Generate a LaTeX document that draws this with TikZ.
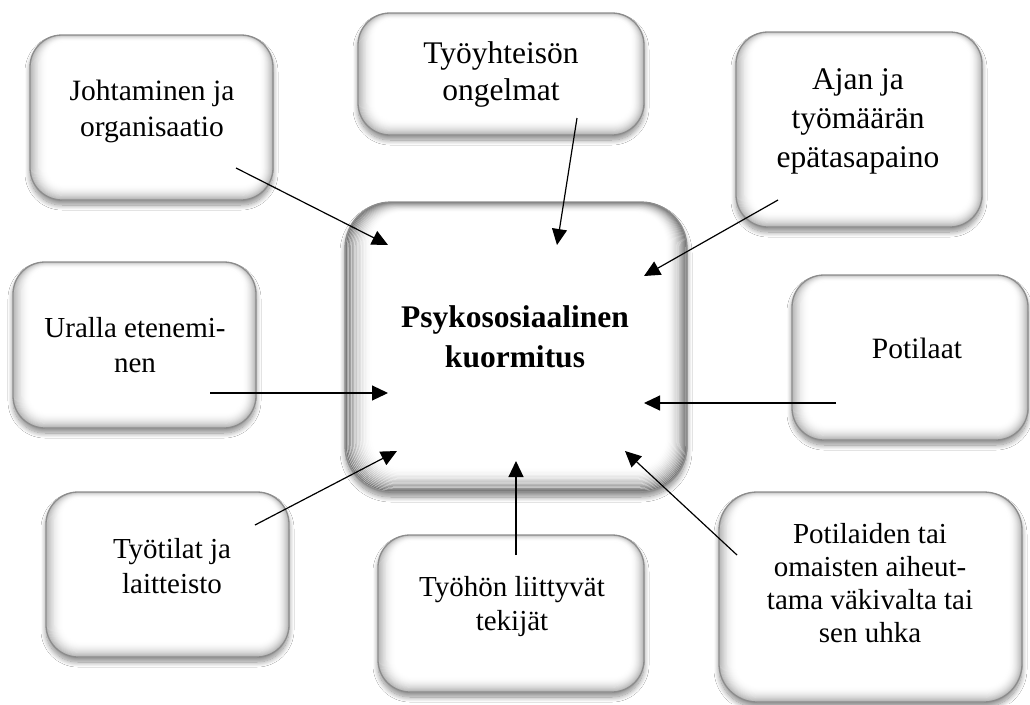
\documentclass[tikz,border=0pt]{standalone}
\usepackage{fontspec}
\setmainfont{Liberation Serif}
\usetikzlibrary{arrows.meta,shadows.blur}
\tikzset{
  bbox/.style n args={3}{
    shape=rectangle, inner sep=0pt, rounded corners=#1,
    draw=black!45, line width=1.3pt, fill=white,
    blur shadow={shadow xshift=0pt, shadow yshift=-5pt, shadow blur radius=5pt,
                 shadow opacity=45, shadow blur steps=12},
    path picture={
      \foreach \i in {0,...,19}{
        \pgfmathsetmacro\lev{#2*(1-\i/20)^2}
        \pgfmathsetmacro\rr{max(#1-0.8*\i,3)}
        \pgfmathsetmacro\dl{#3*0.9*\i}
        \pgfmathsetmacro\dr{#3*0.7*\i}
        \pgfmathsetmacro\db{#3*0.8*\i}
        \pgfmathsetmacro\dt{#3*0.35*\i}
        \draw[draw=black!\lev, line width=1.2pt, rounded corners=\rr pt]
          ([shift={(\dl pt,\db pt)}]path picture bounding box.south west) rectangle
          ([shift={(-\dr pt,-\dt pt)}]path picture bounding box.north east);
      }
    }
  },
  lbl/.style={anchor=north, inner sep=0pt, align=center, text=black},
  arr/.style={line width=1.2pt, draw=black, -{Triangle[length=16pt,width=15pt]}}
}
\begin{document}
\begin{tikzpicture}[x=1pt,y=-1pt]
\useasboundingbox[fill=white] (0,0) rectangle (1030,704);
% boxes
\node[bbox={32}{32}{1}, minimum width=243pt, minimum height=165pt] (bA) at (151.5,117.5) {};
\node[bbox={32}{32}{1}, minimum width=286pt, minimum height=122pt] (bB) at (501,74) {};
\node[bbox={32}{32}{1}, minimum width=246pt, minimum height=195pt] (bC) at (859,129.5) {};
\node[bbox={32}{32}{1}, minimum width=243pt, minimum height=166pt] (bE) at (134.5,345) {};
\node[bbox={32}{32}{1}, minimum width=236pt, minimum height=165pt] (bF) at (910,357.5) {};
\node[bbox={32}{32}{1}, minimum width=243pt, minimum height=165pt] (bG) at (167.5,574.5) {};
\node[bbox={32}{32}{1}, minimum width=266pt, minimum height=157pt] (bH) at (511,613.5) {};
\node[bbox={38}{32}{1}, minimum width=303pt, minimum height=210pt] (bI) at (870.5,597) {};
\node[bbox={46}{58}{1.6}, minimum width=342pt, minimum height=290pt] (bD) at (516,347) {};
% labels
\node[lbl, font=\fontsize{29.5}{36}\selectfont] (lA) at (152,80) {Johtaminen ja\\organisaatio};
\node[lbl, font=\fontsize{31.5}{37}\selectfont] (lB) at (501,41.6) {Työyhteisön\\ongelmat};
\node[lbl, font=\fontsize{31.5}{39}\selectfont] (lC) at (858,68.6) {Ajan ja\\työmäärän\\epätasapaino};
\node[lbl, font=\fontsize{31.5}{40}\selectfont\bfseries] (lD) at (515,305.4) {Psykososiaalinen\\kuormitus};
\node[lbl, font=\fontsize{29}{35}\selectfont] (lE) at (135,317) {Uralla etenemi-\\nen};
\node[lbl, font=\fontsize{29.5}{35}\selectfont] (lF) at (917,338) {Potilaat};
\node[lbl, font=\fontsize{29}{35}\selectfont] (lG) at (172,538) {Työtilat ja\\laitteisto};
\node[lbl, font=\fontsize{29}{34}\selectfont] (lH) at (512,576) {Työhön liittyvät\\tekijät};
\node[lbl, font=\fontsize{29}{33}\selectfont] (lI) at (870,523) {Potilaiden tai\\omaisten aiheut-\\tama väkivalta tai\\sen uhka};
% arrow end points
\coordinate (tA) at (236,168); \coordinate (hA) at (388,245);
\coordinate (tB) at (577,118); \coordinate (hB) at (557,245);
\coordinate (tC) at (778,200); \coordinate (hC) at (644,276);
\coordinate (tE) at (210,393); \coordinate (hE) at (388,393);
\coordinate (tF) at (836,403); \coordinate (hF) at (644,403);
\coordinate (tG) at (255,525); \coordinate (hG) at (397,451);
\coordinate (tH) at (516,555); \coordinate (hH) at (516,461);
\coordinate (tI) at (737,555); \coordinate (hI) at (625,451);
\draw[arr] (tA) -- (hA);
\draw[arr] (tB) -- (hB);
\draw[arr] (tC) -- (hC);
\draw[arr] (tE) -- (hE);
\draw[arr] (tF) -- (hF);
\draw[arr] (tG) -- (hG);
\draw[arr] (tH) -- (hH);
\draw[arr] (tI) -- (hI);
\end{tikzpicture}
\end{document}
